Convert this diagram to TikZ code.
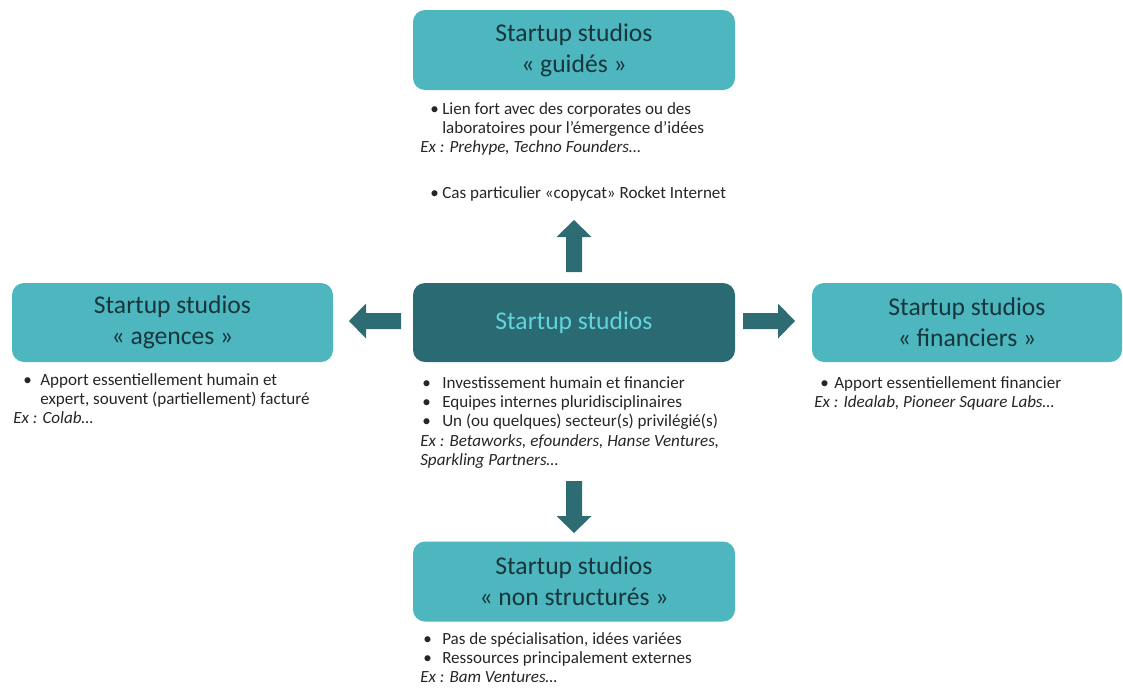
\documentclass[tikz,border=0pt]{standalone}
\usepackage{fontspec}
\setmainfont{Carlito}
\usetikzlibrary{calc}
\newdimen\pxu \pxu=0.75pt
\definecolor{lightteal}{HTML}{4DB6BF}
\definecolor{darkteal}{HTML}{2A6A72}
\definecolor{titledark}{HTML}{17363C}
\definecolor{titlelight}{HTML}{62D4DC}
\definecolor{arrowteal}{HTML}{2E6C73}
\definecolor{bodytext}{HTML}{262626}
\newcommand{\bl}[2]{\hspace*{#1\pxu}\makebox[\dimexpr #2\pxu - #1\pxu\relax][l]{•}}
\newcommand{\ind}[1]{\hspace*{#1\pxu}}
\tikzset{
  catbox/.style={rounded corners=12\pxu, fill=lightteal, text=titledark,
    align=center, font=\fontsize{19.2}{23}\selectfont, inner sep=0pt},
  mainbox/.style={rounded corners=12\pxu, fill=darkteal, text=titlelight,
    align=center, font=\fontsize{19.2}{23}\selectfont, inner sep=0pt},
  bodytxt/.style={anchor=north west, inner sep=0pt, align=left, text=bodytext,
    font=\fontsize{12.8}{14.5}\selectfont},
  blockarrow/.style={fill=arrowteal}
}
\begin{document}
\begin{tikzpicture}[x=0.75pt,y=-0.75pt]
\useasboundingbox (0,0) rectangle (1123,690);
% boxes
\node[catbox, minimum width=322\pxu, minimum height=80\pxu] (guides) at (574,50) {Startup studios\\« guidés »};
\node[catbox, minimum width=321\pxu, minimum height=79\pxu] (agences) at (172.5,322.5) {Startup studios\\« agences »};
\node[mainbox, minimum width=322\pxu, minimum height=79\pxu] (centre) at (574,322.5) {Startup studios};
\node[catbox, minimum width=310\pxu, minimum height=79\pxu] (financiers) at (967,322.5) {Startup studios\\« financiers »};
\node[catbox, minimum width=322\pxu, minimum height=80\pxu] (nonstruct) at (574,581.5) {Startup studios\\« non structurés »};
% texts
\node[bodytxt] (tguides) at (420,102) {\bl{10}{22}Lien fort avec des corporates ou des\\\ind{22}laboratoires pour l’émergence d’idées\\\textit{Ex : Prehype, Techno Founders…}\\[20pt]\bl{10}{22}Cas particulier «copycat» Rocket Internet};
\node[bodytxt] (tagences) at (13,373) {\bl{10}{27}Apport essentiellement humain et\\\ind{27}expert, souvent (partiellement) facturé\\\textit{Ex : Colab…}};
\node[bodytxt] (tcentre) at (420,376) {\bl{2}{22}Investissement humain et financier\\\bl{2}{22}Equipes internes pluridisciplinaires\\\bl{2}{22}Un (ou quelques) secteur(s) privilégié(s)\\\textit{Ex : Betaworks, efounders, Hanse Ventures,}\\\textit{Sparkling Partners…}};
\node[bodytxt] (tfinanciers) at (814,376) {\bl{6}{20}Apport essentiellement financier\\\textit{Ex : Idealab, Pioneer Square Labs…}};
\node[bodytxt] (tnonstruct) at (420,632) {\bl{3}{22}Pas de spécialisation, idées variées\\\bl{3}{22}Ressources principalement externes\\\textit{Ex : Bam Ventures…}};
% block arrows
\coordinate (aup) at (574,246);
\coordinate (adown) at (574,507);
\coordinate (aleft) at (375,321);
\coordinate (aright) at (769,321);
\fill[blockarrow] ($(aup)+(-8,26)$) -- ++(0,-35) -- ++(-9.5,0) -- ($(aup)+(0,-26)$) -- ($(aup)+(17.5,-9)$) -- ++(-9.5,0) -- ($(aup)+(8,26)$) -- cycle;
\fill[blockarrow] ($(adown)+(-8,-26)$) -- ++(0,35) -- ++(-9.5,0) -- ($(adown)+(0,26)$) -- ($(adown)+(17.5,9)$) -- ++(-9.5,0) -- ($(adown)+(8,-26)$) -- cycle;
\fill[blockarrow] ($(aleft)+(26,-8)$) -- ++(-35,0) -- ++(0,-9.5) -- ($(aleft)+(-26,0)$) -- ($(aleft)+(-9,17.5)$) -- ++(0,-9.5) -- ($(aleft)+(26,8)$) -- cycle;
\fill[blockarrow] ($(aright)+(-26,-8)$) -- ++(35,0) -- ++(0,-9.5) -- ($(aright)+(26,0)$) -- ($(aright)+(9,17.5)$) -- ++(0,-9.5) -- ($(aright)+(-26,8)$) -- cycle;
\end{tikzpicture}
\end{document}
